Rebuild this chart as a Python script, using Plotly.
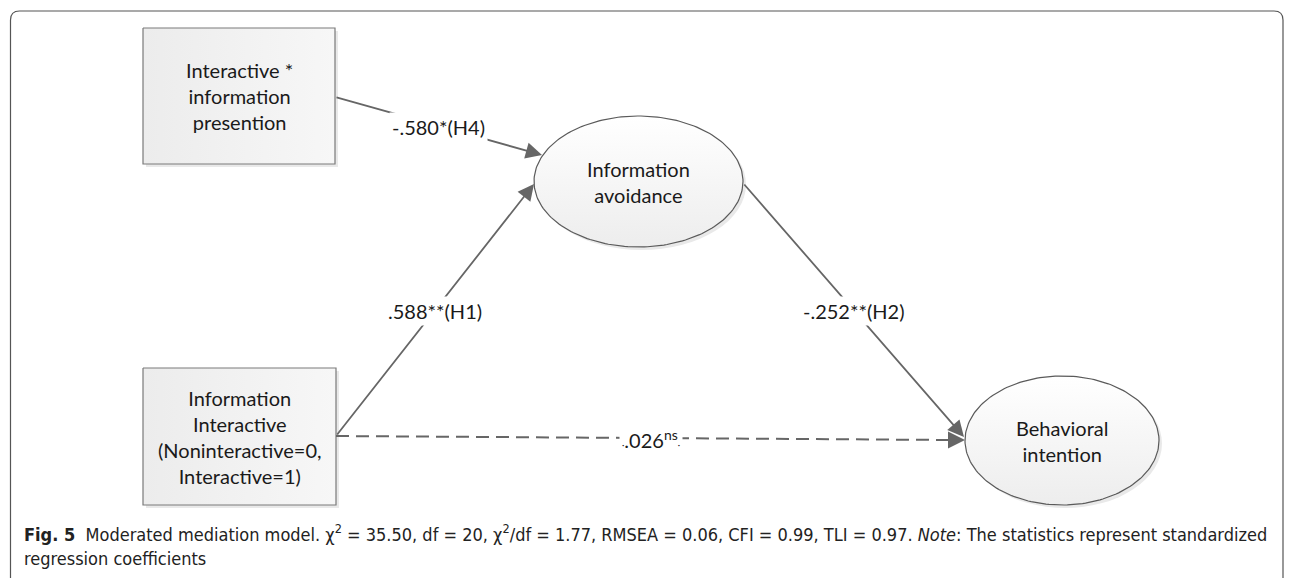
import numpy as np
import plotly.graph_objects as go

W, H = 1293, 578

# ---- content (text / values) ----
box_texts = ["Interactive *<br>information<br>presention",
             "Information<br>Interactive<br>(Noninteractive=0,<br>Interactive=1)"]
ellipse_texts = ["Information<br>avoidance", "Behavioral<br>intention"]
DOT = "<span style='font-size:9px'>·</span>"
path_coefs = ["-.580*(H4)", ".588**(H1)", "-.252**(H2)", DOT + ".026<sup>ns</sup>" + DOT]
path_dashed = [False, False, False, True]
caption_line1 = ("<b>Fig. 5</b>  Moderated mediation model. χ<sup>2</sup> = 35.50, df = 20, "
                 "χ<sup>2</sup>/df = 1.77, RMSEA = 0.06, CFI = 0.99, TLI = 0.97. "
                 "<i>Note</i>: The statistics represent standardized")
caption_line2 = "regression coefficients"

# ---- layout geometry (pixels) ----
boxes = [(143, 28, 335, 164), (143, 368, 336, 505)]
ellipses = [(638.5, 181.5, 104.5, 65.5), (1062, 440.5, 97, 64.5)]
paths = [((335, 97), (542, 155)),
         ((336, 436), (534, 184)),
         ((743, 183), (964, 437)),
         ((336, 436), (965, 440))]

LINE = "#666666"
TXT = "#1a1a1a"
FONT = "Lato"
CAPFONT = "Liberation Sans Narrow, DejaVu Sans Condensed, Arial Narrow, sans-serif"

fig = go.Figure()
shapes = []
annotations = []

# frame
r = 9
x0f, y0f, x1f, y1f = 10.5, 11, 1283, 590
frame_path = (f"M {x0f+r},{y0f} L {x1f-r},{y0f} Q {x1f},{y0f} {x1f},{y0f+r} "
              f"L {x1f},{y1f-r} Q {x1f},{y1f} {x1f-r},{y1f} L {x0f+r},{y1f} "
              f"Q {x0f},{y1f} {x0f},{y1f-r} L {x0f},{y0f+r} Q {x0f},{y0f} {x0f+r},{y0f} Z")
shapes.append(dict(type="path", path=frame_path, line=dict(color="#555555", width=1.2),
                   xref="x", yref="y", layer="below"))

# boxes: shadow + gradient fill
for (bx0, by0, bx1, by1), txt in zip(boxes, box_texts):
    shapes.append(dict(type="rect", x0=bx0 + 3, y0=by0 + 3, x1=bx1 + 3, y1=by1 + 3,
                       fillcolor="#e9e9e9", line=dict(width=0), layer="below"))
    fig.add_trace(go.Scatter(x=[bx0, bx1, bx1, bx0, bx0], y=[by0, by0, by1, by1, by0],
                             mode="lines", fill="toself",
                             fillgradient=dict(type="horizontal",
                                               colorscale=[[0, "#ececec"], [1, "#f7f7f7"]]),
                             line=dict(color="#7a7a7a", width=1.2), hoverinfo="skip",
                             showlegend=False))
    annotations.append(dict(x=(bx0 + bx1) / 2, y=(by0 + by1) / 2, text=txt, showarrow=False,
                            font=dict(family=FONT, size=20, color=TXT), align="center"))

# ellipses: shadow + gradient fill
t = np.linspace(0, 2 * np.pi, 200)
for (cx, cy, rx, ry), txt in zip(ellipses, ellipse_texts):
    shapes.append(dict(type="circle", x0=cx - rx + 3, y0=cy - ry + 3, x1=cx + rx + 3, y1=cy + ry + 3,
                       fillcolor="#e9e9e9", line=dict(width=0), layer="below"))
    fig.add_trace(go.Scatter(x=cx + rx * np.cos(t), y=cy + ry * np.sin(t),
                             mode="lines", fill="toself",
                             fillgradient=dict(type="vertical",
                                               colorscale=[[0, "#ededed"], [1, "#ffffff"]]),
                             line=dict(color="#5a5a5a", width=1.2), hoverinfo="skip",
                             showlegend=False))
    annotations.append(dict(x=cx, y=cy, text=txt, showarrow=False,
                            font=dict(family=FONT, size=20, color=TXT), align="center"))

# paths
for ((xs, ys), (xe, ye)), coef, dashed in zip(paths, path_coefs, path_dashed):
    if dashed:
        fig.add_trace(go.Scatter(x=[xs, xe - 12], y=[ys, ye], mode="lines",
                                 line=dict(color=LINE, width=2, dash="13px,7px"),
                                 hoverinfo="skip", showlegend=False))
        annotations.append(dict(x=xe, y=ye, ax=xe - 16, ay=ye, axref="x", ayref="y",
                                xref="x", yref="y", text="", showarrow=True,
                                arrowhead=2, arrowsize=1.7, arrowwidth=2, arrowcolor=LINE))
    else:
        annotations.append(dict(x=xe, y=ye, ax=xs, ay=ys, axref="x", ayref="y",
                                xref="x", yref="y", text="", showarrow=True,
                                arrowhead=2, arrowsize=1.8, arrowwidth=1.8, arrowcolor=LINE))
for ((xs, ys), (xe, ye)), coef in zip(paths, path_coefs):
    annotations.append(dict(x=(xs + xe) / 2, y=(ys + ye) / 2 + 1, text=coef, showarrow=False,
                            bgcolor="white", borderpad=2,
                            font=dict(family=FONT, size=20, color=TXT)))

# caption
annotations.append(dict(x=22, y=533, text=caption_line1, showarrow=False, xanchor="left",
                        yanchor="middle", font=dict(family=CAPFONT, size=18, color="#222222")))
annotations.append(dict(x=22, y=558, text=caption_line2, showarrow=False, xanchor="left",
                        yanchor="middle", font=dict(family=CAPFONT, size=18, color="#222222")))

fig.update_layout(width=W, height=H, autosize=False,
                  margin=dict(l=0, r=0, t=0, b=0),
                  paper_bgcolor="white", plot_bgcolor="white",
                  xaxis=dict(range=[0, W], visible=False, fixedrange=True),
                  yaxis=dict(range=[H, 0], visible=False, fixedrange=True),
                  shapes=shapes, annotations=annotations, showlegend=False)
fig.write_html("out.html", config={"displayModeBar": False},
               post_script="document.body.style.margin='0px';document.body.style.overflow='hidden';")
